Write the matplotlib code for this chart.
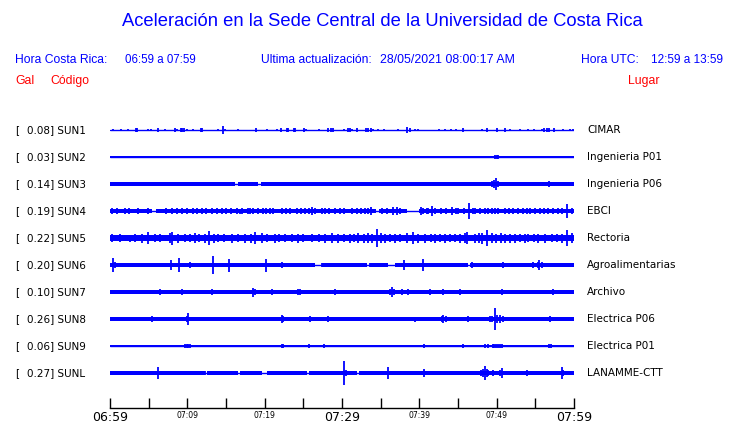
import matplotlib
matplotlib.use('Agg')
import matplotlib.pyplot as plt

# stations (top to bottom)
codes = ['SUN1', 'SUN2', 'SUN3', 'SUN4', 'SUN5', 'SUN6', 'SUN7', 'SUN8', 'SUN9', 'SUNL']
places = ['CIMAR', 'Ingenieria P01', 'Ingenieria P06', 'EBCI', 'Rectoria',
          'Agroalimentarias', 'Archivo', 'Electrica P06', 'Electrica P01', 'LANAMME-CTT']
gal = [0.08, 0.03, 0.14, 0.19, 0.22, 0.20, 0.10, 0.26, 0.06, 0.27]

# background noise half-amplitude of each trace
base_amp = [0.5, 0.6, 1.7, 2.3, 3.2, 1.6, 1.8, 1.8, 0.6, 1.7]

# minutes after 06:59 where a trace is quiet (only the thin line)
sun3_quiet = [(16.2, 16.5), (19.2, 19.5)]
sun4_quiet = [(5.4, 6.0), (34.4, 34.8), (38.4, 39.9)]
sun6_quiet = [(26.5, 27.4), (33.2, 33.6), (36.0, 36.9), (46.3, 46.5)]
sunl_quiet = [(12.3, 12.5), (16.6, 16.8), (19.7, 20.3), (25.5, 25.7), (32.0, 32.2)]

# bursts: minute, half-amplitude
sun1_t = [0.43, 1.38, 2.28, 3.36, 3.45, 4.87, 5.30, 6.16, 7.11, 8.40, 8.62, 9.18, 9.35, 9.57,
          9.91, 10.69, 11.77, 11.94, 14.01, 14.65, 14.87, 16.59, 18.88, 20.34, 21.55, 22.11,
          22.84, 23.06, 23.79, 23.96, 25.04, 25.30, 27.07, 28.23, 28.53, 28.79, 30.30, 30.73,
          31.08, 31.33, 31.89, 33.10, 33.40, 33.70, 34.05, 34.61, 35.43, 37.28, 38.45, 38.83,
          39.44, 39.87, 42.58, 43.32, 44.05, 44.69, 45.69, 48.06, 48.79, 50.00, 51.07, 51.72,
          53.01, 54.09, 54.82, 55.81, 56.15, 56.46, 56.76, 57.41, 58.53, 59.48, 59.91]
sun1_a = [1.3, 1.3, 1.3, 1.7, 1.7, 1.3, 1.3, 1.7, 1.3, 1.7, 1.3, 2.0, 2.3, 2.0,
          1.3, 1.0, 1.7, 1.7, 1.3, 4.0, 1.3, 1.0, 1.7, 1.3, 1.3, 1.7,
          2.0, 1.7, 2.3, 1.7, 1.7, 1.3, 1.0, 1.7, 2.0, 1.7, 1.3, 1.7,
          1.7, 1.3, 1.7, 2.3, 1.7, 1.7, 1.3, 1.3, 1.3, 1.3, 3.3, 1.7,
          1.3, 1.3, 1.3, 1.0, 1.0, 1.3, 2.3, 1.3, 1.7, 1.7, 1.7, 1.3,
          1.3, 1.0, 1.3, 1.3, 1.7, 1.7, 1.7, 2.0, 1.0, 1.3, 1.3]

sun2_t = [9.91, 10.0, 22.11, 27.89, 40.0, 49.05, 49.57, 49.78, 50.0, 50.22, 50.52]
sun2_a = [1.3, 1.3, 1.0, 1.3, 1.0, 1.3, 1.3, 1.7, 1.7, 1.7, 1.3]

sun3_t = [1.72, 9.91, 31.46, 43.75, 48.92, 49.35, 49.61, 49.87, 50.13, 56.81]
sun3_a = [2.0, 2.3, 2.0, 2.0, 2.3, 3.0, 3.7, 5.7, 3.0, 2.7]

sun4_t = [0.22, 0.86, 1.94, 3.66, 4.96, 8.62, 9.35, 9.91, 10.69, 11.85, 12.41, 13.15, 13.79,
          14.52, 14.96, 15.65, 16.38, 17.02, 17.80, 18.53, 19.18, 19.83, 20.69, 21.12, 22.20,
          23.27, 24.14, 25.21, 26.08, 26.51, 27.37, 28.32, 29.09, 29.74, 31.25, 31.89, 32.97,
          33.40, 33.70, 35.13, 36.64, 37.07, 37.50, 40.21, 40.51, 40.95, 41.59, 42.02, 44.18,
          45.04, 45.82, 46.42, 47.19, 47.84, 48.49, 49.35, 50.21, 51.07, 52.15, 52.80, 53.44,
          54.31, 54.95, 55.60, 56.68, 57.97, 59.05, 59.69,
          2.5, 7.2, 8.0, 11.2, 16.8, 18.1, 20.2, 22.7, 24.7, 25.7, 27.8, 30.3, 32.4,
          35.8, 41.1, 42.8, 43.5, 44.7, 46.9, 48.9, 49.8, 51.6, 53.9, 56.1, 57.3, 58.5]
sun4_a = [2.7, 2.7, 2.7, 2.7, 3.0, 2.7, 3.0, 2.7, 2.7, 3.0, 2.7, 3.0, 2.7,
          3.0, 3.3, 2.7, 3.0, 2.7, 3.0, 3.0, 2.7, 3.0, 2.7, 3.0, 3.0,
          2.7, 3.0, 3.0, 3.7, 3.0, 2.7, 3.0, 2.7, 3.0, 3.0, 3.0, 3.0,
          3.3, 4.0, 2.7, 3.7, 3.7, 3.0, 4.0, 3.0, 3.3, 4.7, 3.0, 4.0,
          3.0, 3.3, 8.0, 3.3, 3.0, 3.0, 3.3, 3.0, 3.0, 3.0, 3.0, 3.3,
          3.0, 3.0, 3.3, 3.0, 3.0, 7.3, 3.0,
          2.7, 2.7, 3.0, 2.7, 2.5, 2.7, 3.0, 2.7, 2.7, 3.0, 2.7, 3.0, 3.0,
          3.0, 3.0, 2.7, 3.0, 3.0, 3.0, 3.0, 3.3, 3.0, 3.0, 3.0, 3.0, 3.0]

sun5_t = [0.22, 1.29, 4.09, 4.96, 5.82, 7.76, 7.97, 9.70, 10.99, 12.28, 12.84, 14.01, 15.73,
          17.46, 18.75, 19.61, 21.33, 22.63, 24.35, 26.08, 28.66, 29.52, 31.03, 32.11, 33.40,
          34.48, 35.56, 36.85, 38.36, 39.22, 40.73, 42.02, 43.32, 44.61, 45.90, 46.12, 47.19,
          48.06, 48.70, 49.35, 51.07, 52.37, 54.09, 55.38, 57.11, 59.05, 59.69,
          2.6, 3.2, 6.5, 8.8, 10.3, 11.5, 13.5, 14.8, 16.5, 18.2, 20.3, 21.9, 23.5,
          25.0, 27.0, 27.8, 30.2, 31.6, 32.8, 33.9, 35.0, 36.2, 37.5, 39.8, 41.5, 42.7,
          44.0, 45.3, 47.7, 49.9, 50.5, 51.7, 53.0, 53.6, 54.8, 56.2, 57.8, 58.4]
sun5_a = [3.7, 4.0, 4.5, 6.0, 4.3, 5.0, 6.5, 4.3, 5.0, 4.5, 7.0, 4.3, 4.5,
          4.5, 6.0, 5.0, 4.5, 4.3, 4.5, 4.3, 5.0, 4.5, 4.5, 5.0, 5.0,
          9.0, 4.5, 4.5, 5.0, 6.0, 4.5, 4.5, 4.5, 4.3, 5.0, 6.0, 4.5,
          5.5, 8.0, 5.0, 4.5, 4.5, 4.3, 4.5, 4.3, 8.0, 5.0,
          3.5, 3.7, 4.0, 4.5, 4.3, 4.0, 4.5, 4.0, 4.0, 4.5, 4.3, 4.0, 4.0,
          3.7, 4.3, 4.5, 4.0, 4.3, 4.5, 4.5, 5.0, 4.0, 4.3, 4.5, 4.3, 4.0,
          4.3, 4.5, 5.0, 4.5, 5.0, 4.5, 4.3, 4.5, 4.3, 4.5, 4.3, 4.5]

sun6_t = [0.43, 0.65, 1.94, 3.45, 4.53, 6.90, 7.84, 8.19, 8.92, 10.34, 10.47, 11.85, 13.36,
          14.01, 14.52, 15.43, 16.59, 17.89, 20.21, 22.20, 22.63, 23.92, 27.37, 29.52, 33.62,
          38.06, 39.87, 40.51, 42.45, 44.18, 46.76, 50.86, 53.23, 54.65, 55.30, 55.47, 55.81,
          59.48]
sun6_a = [7.0, 3.3, 2.3, 2.0, 2.0, 2.3, 5.0, 2.3, 7.0, 3.0, 2.3, 2.0, 9.0,
          2.3, 2.3, 6.5, 2.0, 2.0, 6.5, 3.0, 2.3, 2.0, 2.0, 2.0, 2.0,
          4.7, 2.3, 6.0, 2.0, 2.0, 3.0, 3.0, 2.0, 3.0, 3.0, 5.0, 3.3,
          2.3]

sun7_t = [0.43, 1.08, 4.96, 6.47, 9.35, 10.34, 12.28, 13.23, 15.09, 15.73, 18.53, 18.75, 20.90,
          22.20, 23.06, 24.27, 24.57, 27.58, 28.32, 29.09, 31.46, 32.54, 32.97, 33.83, 35.13,
          36.20, 36.42, 36.76, 37.71, 38.14, 38.57, 39.00, 40.30, 41.38, 41.81, 43.10, 43.32,
          44.39, 45.26, 47.63, 48.49, 50.64, 51.29, 52.80, 55.38, 56.03, 57.32, 58.83, 59.48]
sun7_a = [2.3, 2.3, 2.0, 2.7, 2.7, 2.0, 2.0, 2.7, 2.0, 2.0, 4.5, 3.0, 3.0,
          2.3, 2.3, 3.3, 2.7, 2.3, 2.3, 2.7, 2.3, 2.3, 2.3, 2.3, 2.3,
          3.0, 5.0, 3.0, 2.7, 2.3, 2.7, 2.3, 2.3, 2.7, 2.3, 2.7, 2.3,
          2.3, 2.7, 2.3, 2.3, 2.7, 2.3, 2.3, 2.3, 2.3, 2.7, 2.3, 2.0]

sun8_t = [0.65, 2.59, 4.96, 5.39, 5.82, 6.90, 7.89, 9.91, 10.13, 11.21, 13.15, 13.58, 14.44,
          15.30, 17.46, 17.89, 18.96, 20.69, 22.20, 22.42, 25.86, 28.23, 28.88, 30.82, 33.19,
          34.48, 36.20, 38.57, 39.44, 40.73, 41.38, 42.24, 42.88, 43.10, 43.40, 45.69, 46.34,
          47.84, 48.49, 49.13, 49.44, 49.78, 50.00, 50.43, 50.86, 51.72, 52.37, 54.74, 56.89,
          57.97, 58.83, 59.69]
sun8_a = [2.3, 2.3, 2.3, 2.7, 2.3, 2.3, 2.3, 3.0, 6.0, 2.3, 2.3, 2.3, 2.3,
          2.3, 2.3, 2.3, 2.3, 2.3, 4.3, 2.7, 3.0, 2.7, 2.3, 2.3, 2.3,
          2.3, 2.3, 2.3, 2.5, 2.3, 2.3, 2.3, 2.7, 4.0, 2.7, 2.3, 3.3,
          2.3, 2.3, 3.0, 3.3, 11.0, 4.0, 3.7, 2.7, 2.3, 2.3, 2.3, 2.7,
          2.3, 2.3, 2.3]

sun9_t = [5.09, 9.70, 9.91, 10.13, 10.34, 21.55, 21.77, 22.20, 22.42, 25.77, 27.71, 30.56,
          31.33, 34.61, 39.22, 40.64, 41.81, 42.11, 45.69, 47.93, 48.49, 48.92, 49.48, 49.70,
          49.87, 50.13, 50.43, 50.73, 56.81, 56.98]
sun9_a = [1.0, 1.7, 1.7, 1.7, 1.7, 1.3, 1.3, 1.7, 1.7, 1.7, 1.7, 1.3,
          1.0, 1.0, 1.0, 1.7, 1.3, 1.3, 1.7, 1.0, 1.7, 1.7, 1.7, 2.3,
          2.3, 2.0, 1.7, 2.0, 1.7, 1.7]

sunl_t = [0.22, 1.08, 2.37, 3.23, 3.66, 5.39, 6.25, 7.11, 8.84, 10.56, 12.28, 14.01, 16.38,
          17.89, 20.69, 23.06, 25.21, 27.28, 29.52, 30.04, 30.30, 30.47, 32.97, 34.70, 35.99,
          40.64, 44.61, 47.97, 48.27, 48.49, 48.70, 48.92, 49.57, 50.43, 50.73, 52.28, 53.96,
          56.46, 58.40, 58.62, 59.69]
sunl_a = [2.0, 2.0, 2.3, 2.0, 2.0, 2.0, 5.7, 2.0, 2.0, 2.0, 2.0, 2.0, 2.3,
          2.0, 2.0, 2.0, 2.0, 2.3, 2.0, 2.3, 12.0, 2.7, 2.0, 2.0, 6.0,
          4.0, 2.0, 2.7, 4.0, 7.0, 4.0, 3.3, 2.7, 3.3, 5.3, 2.0, 3.0,
          2.0, 5.7, 3.0, 2.0]

tick_min = [0, 5, 10, 15, 20, 25, 30, 35, 40, 45, 50, 55, 60]
tick_lab = ['06:59', '', '07:09', '', '07:19', '', '07:29', '', '07:39', '', '07:49', '', '07:59']

burst_t = [sun1_t, sun2_t, sun3_t, sun4_t, sun5_t, sun6_t, sun7_t, sun8_t, sun9_t, sunl_t]
burst_a = [sun1_a, sun2_a, sun3_a, sun4_a, sun5_a, sun6_a, sun7_a, sun8_a, sun9_a, sunl_a]
quiet = [[], [], sun3_quiet, sun4_quiet, [], sun6_quiet, [], [], [], sunl_quiet]

blue = '#0000ff'
W, H = 740, 423
fig = plt.figure(figsize=(W / 100, H / 100), dpi=100)

ax = fig.add_axes([110 / W, (H - 408) / H, 464 / W, 293 / H])
gap = 27  # vertical spacing between traces

for i in range(len(codes)):
    y0 = i * gap
    # thin line
    ax.plot([0, 60], [y0, y0], color=blue, lw=1.0, solid_capstyle='butt')
    # noise band, interrupted where quiet
    segs = []
    start = 0
    for s, e in quiet[i]:
        segs.append((start, s - start))
        start = e
    segs.append((start, 60 - start))
    b = base_amp[i]
    ax.broken_barh(segs, (y0 - b, 2 * b), facecolors=blue, lw=0)
    ax.vlines(burst_t[i], [y0 - a for a in burst_a[i]], [y0 + a for a in burst_a[i]],
              color=blue, lw=1.3)

ax.set_xlim(0, 60)
ax.set_ylim(10.296 * gap, -0.556 * gap)
for s in ['top', 'left', 'right']:
    ax.spines[s].set_visible(False)
ax.spines['bottom'].set_linewidth(1.0)
ax.set_yticks([])
ax.set_xticks(tick_min)
ax.set_xticklabels(tick_lab)
ax.tick_params(axis='x', direction='in', length=7, width=1.0, pad=2)
for lab in ax.get_xticklabels():
    if lab.get_text() in ('06:59', '07:29', '07:59'):
        lab.set_fontsize(9)
    else:
        lab.set_fontsize(5.5)

# row labels
for i in range(len(codes)):
    yf = 1 - (130 + i * gap) / H
    fig.text(15 / W, yf, '[', fontsize=7.5, va='center', family='DejaVu Sans')
    fig.text(27 / W, yf, '%.2f] %s' % (gal[i], codes[i]), fontsize=7.5, va='center',
             family='DejaVu Sans')
    fig.text(587 / W, yf, places[i], fontsize=7.5, va='center', family='DejaVu Sans')

sans = 'Liberation Sans'
fig.text(382 / W, 1 - 21 / H, 'Aceleración en la Sede Central de la Universidad de Costa Rica',
         fontsize=13.2, color=blue, ha='center', va='center', family=sans)
hy = 1 - 60 / H
fig.text(15 / W, hy, 'Hora Costa Rica:', fontsize=8.7, color=blue, va='center', family=sans)
fig.text(125 / W, hy, '06:59 a 07:59', fontsize=8.3, color=blue, va='center', family=sans)
fig.text(261 / W, hy, 'Ultima actualización:', fontsize=8.7, color=blue, va='center', family=sans)
fig.text(380 / W, hy, '28/05/2021 08:00:17 AM', fontsize=8.9, color=blue, va='center', family=sans)
fig.text(581 / W, hy, 'Hora UTC:', fontsize=8.7, color=blue, va='center', family=sans)
fig.text(651 / W, hy, '12:59 a 13:59', fontsize=8.5, color=blue, va='center', family=sans)

ry = 1 - 81 / H
fig.text(15 / W, ry, 'Gal', fontsize=8.8, color='red', va='center', family=sans)
fig.text(50 / W, ry, 'Código', fontsize=8.8, color='red', va='center', family=sans)
fig.text(628 / W, ry, 'Lugar', fontsize=8.8, color='red', va='center', family=sans)

fig.savefig('out.png', dpi=100)
